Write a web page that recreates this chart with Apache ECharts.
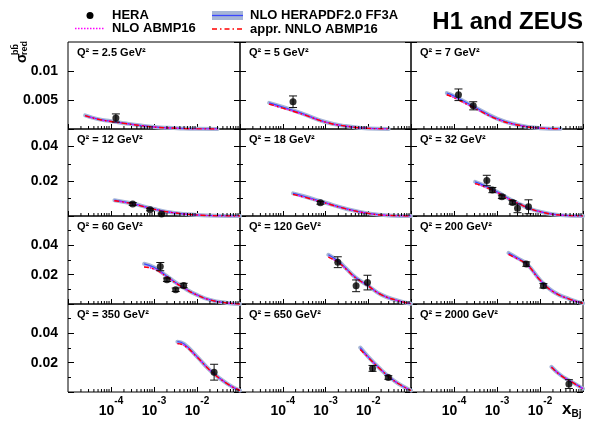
<!DOCTYPE html>
<html>
<head>
<meta charset="utf-8">
<script src="https://cdn.jsdelivr.net/npm/echarts@6/dist/echarts.min.js"></script>
<style>
  html, body { margin: 0; padding: 0; background: #fff; }
  #chart { width: 594px; height: 421px; }
</style>
</head>
<body>
<div id="chart"></div>
<script>
// Q^2 bins (GeV^2), one panel each
const q2Bins = ['2.5', '5', '7', '12', '18', '32', '60', '120', '200', '350', '650', '2000'];

// theory curves, sampled x per panel
const theoryX = [
  [2.5e-5, 5e-5, 1e-4, 2e-4, 5e-4, 1e-3, 2e-3, 5e-3, 1e-2, 3e-2],
  [4.8e-5, 1e-4, 3e-4, 1e-3, 3e-3, 1e-2, 3e-2],
  [6.8e-5, 1e-4, 3e-4, 1e-3, 3e-3, 1e-2, 3e-2],
  [1.2e-4, 3e-4, 1e-3, 3e-3, 1e-2, 3e-2, 1e-1],
  [1.74e-4, 3e-4, 1e-3, 3e-3, 1e-2, 3e-2, 1e-1],
  [3.1e-4, 5e-4, 1e-3, 2e-3, 3e-3, 5e-3, 1e-2, 3e-2, 1e-1],
  [5.9e-4, 1e-3, 2e-3, 3e-3, 5e-3, 1e-2, 2e-2, 5e-2, 1e-1],
  [1.17e-3, 2e-3, 3e-3, 5e-3, 1e-2, 2e-2, 5e-2, 1e-1],
  [1.86e-3, 3e-3, 5e-3, 1e-2, 2e-2, 5e-2, 1e-1],
  [3.5e-3, 5e-3, 1e-2, 2e-2, 5e-2, 1e-1],
  [6.5e-3, 1e-2, 2e-2, 3e-2, 5e-2, 1e-1],
  [1.85e-2, 3e-2, 5e-2, 1e-1]
];
// NLO HERAPDF2.0 FF3A
const heraPdfY = [
  [0.00235, 0.0017, 0.00133, 0.001, 0.0006, 0.00035, 0.0002, 0.00008, 0.00003, 0.000005],
  [0.0045, 0.0038, 0.0026, 0.0012, 0.0005, 0.0001, 0.00002],
  [0.0062, 0.0057, 0.0038, 0.0018, 0.0007, 0.00015, 0.00003],
  [0.0091, 0.0073, 0.004, 0.0018, 0.0006, 0.0001, 0],
  [0.013, 0.0115, 0.0076, 0.0042, 0.0015, 0.0003, 0],
  [0.0196, 0.0176, 0.0139, 0.0096, 0.0075, 0.0049, 0.0025, 0.0005, 0],
  [0.0274, 0.025, 0.019, 0.0152, 0.0109, 0.0062, 0.0028, 0.0007, 0],
  [0.0336, 0.0292, 0.0244, 0.0182, 0.0124, 0.0064, 0.0022, 0.0002],
  [0.0348, 0.0313, 0.0272, 0.0165, 0.0085, 0.0032, 0.0005],
  [0.0343, 0.0328, 0.0241, 0.0149, 0.0057, 0.001],
  [0.0303, 0.024, 0.0151, 0.0106, 0.0058, 0.001],
  [0.0172, 0.0116, 0.0076, 0.0023]
];
// NLO / appr. NNLO ABMP16 (they lie on top of each other)
const abmpY = [
  [0.0023, 0.00168, 0.0013, 0.00097, 0.00058, 0.00034, 0.0002, 0.00008, 0.00003, 0.000005],
  [0.0043, 0.0036, 0.0025, 0.00118, 0.0005, 0.0001, 0.00002],
  [0.0059, 0.0054, 0.0036, 0.0017, 0.0007, 0.00015, 0.00003],
  [0.0088, 0.0071, 0.0039, 0.0018, 0.0006, 0.0001, 0],
  [0.0124, 0.011, 0.0074, 0.0041, 0.0015, 0.0003, 0],
  [0.0186, 0.0169, 0.0135, 0.0094, 0.0074, 0.0049, 0.0025, 0.0005, 0],
  [0.0252, 0.0238, 0.0185, 0.0149, 0.0108, 0.0061, 0.0028, 0.0007, 0],
  [0.032, 0.0283, 0.0239, 0.018, 0.0123, 0.0064, 0.0022, 0.0002],
  [0.0338, 0.0307, 0.0268, 0.0163, 0.0085, 0.0032, 0.0005],
  [0.033, 0.0318, 0.0238, 0.0148, 0.0057, 0.001],
  [0.029, 0.0235, 0.015, 0.0106, 0.0058, 0.001],
  [0.0168, 0.0114, 0.0075, 0.0023]
];

// HERA combined data
const dataX = [
  [1.3e-4],
  [1.74e-4],
  [1.27e-4, 2.8e-4],
  [3.2e-4, 8.1e-4, 1.5e-3],
  [7.6e-4],
  [5.8e-4, 7.8e-4, 1.3e-3, 2.3e-3, 3.0e-3, 5.4e-3],
  [1.4e-3, 2.0e-3, 3.2e-3, 4.9e-3],
  [1.94e-3, 5.2e-3, 9.6e-3],
  [4.8e-3, 1.2e-2],
  [2.5e-2],
  [1.26e-2, 2.95e-2],
  [4.7e-2]
];
const dataY = [
  [0.0019],
  [0.0047],
  [0.0059, 0.004],
  [0.0069, 0.0036, 0.0011],
  [0.0076],
  [0.0204, 0.0149, 0.011, 0.0078, 0.0044, 0.0053],
  [0.0255, 0.0165, 0.0097, 0.0126],
  [0.0285, 0.0124, 0.0146],
  [0.0272, 0.0124],
  [0.0135],
  [0.0161, 0.0099],
  [0.0054]
];
const dataErr = [
  [0.0007],
  [0.001],
  [0.001, 0.0007],
  [0.0008, 0.0006, 0.0005],
  [0.0008],
  [0.003, 0.0015, 0.001, 0.001, 0.0025, 0.004],
  [0.0028, 0.0012, 0.0012, 0.0015],
  [0.0037, 0.004, 0.005],
  [0.0015, 0.0015],
  [0.0054],
  [0.002, 0.0012],
  [0.003]
];

const xLabelExps = [-4, -3, -2];

// layout of the 3x4 pad grid
const colLeft = [68, 240, 411];
const colWidth = [172, 171, 172];
const rowTop = [42, 129, 216, 304];
const rowHeight = [87, 87, 88, 88];
const rowMax = [0.015, 0.05, 0.06, 0.06];
const rowStep = [0.005, 0.02, 0.02, 0.02];

const FONT = 'Liberation Sans, Arial, Helvetica, sans-serif';

const minorX = [];
for (let k = -5; k <= -2; k++) {
  for (let m = 2; m <= 9; m++) minorX.push([m * Math.pow(10, k), 0]);
}

const chart = echarts.init(document.getElementById('chart'), null, { renderer: 'canvas' });

const grids = [], xAxes = [], yAxes = [], series = [], graphics = [];

for (let i = 0; i < 12; i++) {
  const row = Math.floor(i / 3), col = i % 3;
  grids.push({
    left: colLeft[col], top: rowTop[row], width: colWidth[col], height: rowHeight[row],
    show: true, borderColor: '#000', borderWidth: 1, backgroundColor: 'transparent'
  });
  xAxes.push({
    type: 'log', logBase: 10, gridIndex: i, min: 1e-5, max: 1e-1,
    axisLine: { show: false },
    axisTick: { inside: true, length: 5, lineStyle: { color: '#000' } },
    splitLine: { show: false },
    axisLabel: {
      show: row === 3, margin: 4, showMinLabel: false, showMaxLabel: false,
      formatter: v => {
        const e = Math.round(Math.log10(v));
        if (xLabelExps.indexOf(e) < 0) return '';
        return '{b|10}{e|' + e + '}';
      },
      rich: {
        b: { fontFamily: FONT, fontWeight: 'bold', fontSize: 14, color: '#000', lineHeight: 22, verticalAlign: 'bottom' },
        e: { fontFamily: FONT, fontWeight: 'bold', fontSize: 10, color: '#000', lineHeight: 12, verticalAlign: 'top' }
      }
    }
  });
  const yBase = {
    type: 'value', gridIndex: i, min: 0, max: rowMax[row], interval: rowStep[row],
    axisLine: { show: false },
    axisTick: { inside: true, length: 6, lineStyle: { color: '#000' } },
    minorTick: { show: row > 0, splitNumber: 2, length: 3, lineStyle: { color: '#000' } },
    splitLine: { show: false }
  };
  yAxes.push(Object.assign({}, yBase, {
    position: 'left',
    axisLabel: {
      show: col === 0, margin: 10, showMinLabel: false, showMaxLabel: false,
      fontFamily: FONT, fontWeight: 'bold', fontSize: 14, color: '#000',
      formatter: v => String(+v.toFixed(4))
    }
  }));
  yAxes.push(Object.assign({}, yBase, { position: 'right', axisLabel: { show: false } }));

  const yIdx = 2 * i;
  const curve = arr => theoryX[i].map((x, j) => [x, arr[i][j]]);
  const lineBase = {
    type: 'line', xAxisIndex: i, yAxisIndex: yIdx, showSymbol: false, symbol: 'none',
    smooth: 0.5, silent: true, animation: false
  };
  series.push(Object.assign({}, lineBase, {
    name: 'NLO HERAPDF2.0 FF3A band', data: curve(heraPdfY), z: 2,
    lineStyle: { color: '#a6b6d6', width: 4, cap: 'round', join: 'round' }
  }));
  series.push(Object.assign({}, lineBase, {
    name: 'NLO HERAPDF2.0 FF3A', data: curve(heraPdfY), z: 3,
    lineStyle: { color: '#3a46ff', width: 1.2 }
  }));
  series.push(Object.assign({}, lineBase, {
    name: 'NLO ABMP16', data: curve(abmpY), z: 4,
    lineStyle: { color: '#ff00ff', width: 1.4, type: [1.5, 1.5] }
  }));
  series.push(Object.assign({}, lineBase, {
    name: 'appr. NNLO ABMP16', data: curve(abmpY), z: 5,
    lineStyle: { color: '#ff0000', width: 1.4, type: [5, 3, 1.5, 3] }
  }));
  const pts = dataX[i].map((x, j) => [x, dataY[i][j], dataErr[i][j]]);
  series.push({
    type: 'custom', name: 'HERA err', xAxisIndex: i, yAxisIndex: yIdx, z: 6, silent: true,
    animation: false, data: pts, encode: { x: 0, y: 1 },
    renderItem: (params, api) => {
      const x = api.value(0), y = api.value(1), e = api.value(2);
      const hi = api.coord([x, y + e]);
      const lo = api.coord([x, Math.max(0, y - e)]);
      const st = { stroke: '#111', lineWidth: 1 };
      return {
        type: 'group', children: [
          { type: 'line', shape: { x1: hi[0], y1: hi[1], x2: lo[0], y2: lo[1] }, style: st },
          { type: 'line', shape: { x1: hi[0] - 4, y1: hi[1], x2: hi[0] + 4, y2: hi[1] }, style: st },
          { type: 'line', shape: { x1: lo[0] - 4, y1: lo[1], x2: lo[0] + 4, y2: lo[1] }, style: st }
        ]
      };
    }
  });
  series.push({
    type: 'scatter', name: 'HERA', xAxisIndex: i, yAxisIndex: yIdx, z: 7, silent: true,
    animation: false, data: pts.map(p => [p[0], p[1]]), symbol: 'circle', symbolSize: 7,
    itemStyle: { color: '#000' }
  });
  series.push({
    type: 'custom', name: 'minor ticks', xAxisIndex: i, yAxisIndex: yIdx, z: 8, silent: true,
    animation: false, data: minorX, encode: { x: 0, y: 1 }, clip: false,
    renderItem: (params, api) => {
      const p = api.coord([api.value(0), 0]);
      return { type: 'line', shape: { x1: p[0], y1: p[1], x2: p[0], y2: p[1] - 3 }, style: { stroke: '#000', lineWidth: 1 } };
    }
  });

  graphics.push({
    type: 'text', left: colLeft[col] + 9, top: rowTop[row] + 5, silent: true,
    style: { text: 'Q\u00b2 = ' + q2Bins[i] + ' GeV\u00b2', fontFamily: FONT, fontWeight: 'bold', fontSize: 11, fill: '#000' }
  });
}

// legend, drawn by hand (band + line entries)
const legendTxt = { fontFamily: FONT, fontWeight: 'bold', fontSize: 13, fill: '#000', textVerticalAlign: 'middle' };
graphics.push(
  { type: 'circle', shape: { cx: 90, cy: 15.5, r: 3.5 }, style: { fill: '#000' } },
  { type: 'text', x: 112, y: 15.5, style: Object.assign({ text: 'HERA' }, legendTxt) },
  { type: 'line', shape: { x1: 75, y1: 28.5, x2: 105, y2: 28.5 }, style: { stroke: '#ff00ff', lineWidth: 1.6, lineDash: [1.5, 1.5] } },
  { type: 'text', x: 112, y: 28.5, style: Object.assign({ text: 'NLO ABMP16' }, legendTxt) },
  { type: 'rect', shape: { x: 212, y: 11, width: 31, height: 9 }, style: { fill: '#a6b6d6' } },
  { type: 'line', shape: { x1: 212, y1: 15.5, x2: 243, y2: 15.5 }, style: { stroke: '#3a46ff', lineWidth: 1.3 } },
  { type: 'text', x: 250, y: 15.5, style: Object.assign({ text: 'NLO HERAPDF2.0 FF3A' }, legendTxt) },
  { type: 'line', shape: { x1: 212, y1: 29, x2: 243, y2: 29 }, style: { stroke: '#ff0000', lineWidth: 1.6, lineDash: [5, 3, 1.5, 3] } },
  { type: 'text', x: 250, y: 29, style: Object.assign({ text: 'appr. NNLO ABMP16' }, legendTxt) },
  { type: 'text', x: 583, y: 22, style: { text: 'H1 and ZEUS', fontFamily: FONT, fontWeight: 'bold', fontSize: 24, fill: '#000', textAlign: 'right', textVerticalAlign: 'middle' } }
);
// axis titles
graphics.push(
  { type: 'text', x: 29, y: 63, rotation: Math.PI / 2, style: { text: '\u03c3', fontFamily: FONT, fontWeight: 'bold', fontSize: 14, fill: '#000', textVerticalAlign: 'bottom' } },
  { type: 'text', x: 20, y: 55, rotation: Math.PI / 2, style: { text: 'bb\u0304', fontFamily: FONT, fontWeight: 'bold', fontSize: 9, fill: '#000', textVerticalAlign: 'bottom' } },
  { type: 'text', x: 29, y: 55, rotation: Math.PI / 2, style: { text: 'red', fontFamily: FONT, fontWeight: 'bold', fontSize: 9, fill: '#000', textVerticalAlign: 'bottom' } },
  { type: 'text', x: 562, y: 419, style: { text: '{x|x}{s|Bj}', fontFamily: FONT, textVerticalAlign: 'bottom',
      rich: { x: { fontFamily: FONT, fontWeight: 'bold', fontSize: 17, fill: '#000', lineHeight: 18, verticalAlign: 'top' },
              s: { fontFamily: FONT, fontWeight: 'bold', fontSize: 10, fill: '#000', lineHeight: 12, verticalAlign: 'bottom' } } } }
);

chart.setOption({
  animation: false,
  backgroundColor: '#fff',
  grid: grids,
  xAxis: xAxes,
  yAxis: yAxes,
  series: series,
  graphic: graphics
});
</script>
</body>
</html>
